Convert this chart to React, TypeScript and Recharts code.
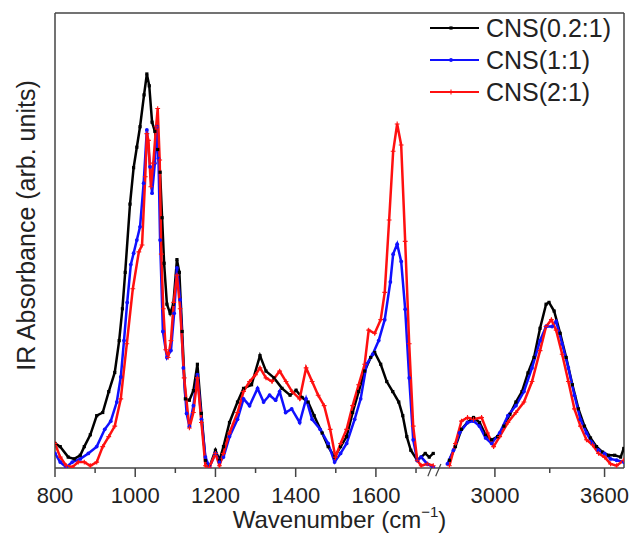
import React from 'react';
import { LineChart, Line, XAxis, YAxis, ReferenceLine, Legend, Label } from 'recharts';

// broken x axis: 800-1750 on the left, 2700-3705 compressed on the right
const BREAK_LOW = 1750;
const BREAK_HIGH = 2700;
const GAP = 10;
const RIGHT_SCALE = 0.4556;
const U_MAX = 2218.5;

const toU = (wn: number) => (wn <= BREAK_LOW ? wn : BREAK_LOW + GAP + (wn - BREAK_HIGH) * RIGHT_SCALE);
const fromU = (u: number) =>
  u <= BREAK_LOW ? Math.round(u) : Math.round(BREAK_HIGH + (u - BREAK_LOW - GAP) / RIGHT_SCALE);

const tickWavenumbers = [800, 900, 1000, 1100, 1200, 1300, 1400, 1500, 1600, 1700, 3000, 3300, 3600];
const labelledTicks = [800, 1000, 1200, 1400, 1600, 3000, 3600];

// [wavenumber, absorbance]
const blackLow: [number, number][] = [
  [800, 5.4], [813, 4.7], [833, 2.4], [848, 2.0], [863, 2.8], [873, 4.7], [888, 7.3], [904, 11.5],
  [919, 12.2], [934, 16.8], [949, 21], [960, 28], [968, 35], [975, 43], [987, 58], [996, 66],
  [1004, 70.5], [1012, 75], [1022, 82], [1029, 86.6], [1035, 84], [1042, 76], [1049, 74], [1056, 70],
  [1062, 65], [1067, 55], [1072, 45], [1079, 36], [1087, 34], [1095, 36], [1104, 45.8], [1110, 43],
  [1117, 30], [1125, 15.2], [1135, 14.9], [1145, 17], [1155, 22.8], [1165, 12], [1175, 1.7], [1185, 0.2],
  [1200, 3.9], [1210, 1.7], [1220, 4.7], [1235, 10], [1255, 14.5], [1270, 17.5], [1290, 18.3], [1311, 24.7],
  [1326, 21.3], [1346, 19.8], [1366, 17.5], [1386, 16], [1401, 17.1], [1416, 15.5], [1431, 14.5], [1446, 11.5],
  [1466, 7.7], [1481, 4.7], [1497, 2.4], [1512, 4.7], [1527, 6.9], [1542, 12.2], [1557, 16.8], [1572, 21.3],
  [1587, 24.3], [1597, 25.4], [1612, 22.8], [1627, 19], [1642, 16.8], [1657, 14.5], [1667, 11.5], [1677, 6.9],
  [1687, 3.9], [1703, 1.7], [1713, 2.4], [1723, 3.2], [1733, 2.4], [1743, 3.2],
];
const blackHigh: [number, number][] = [
  [2751, 1.7], [2784, 4.7], [2817, 8.5], [2850, 10], [2883, 11.1], [2916, 10], [2949, 7.3], [2982, 6.2],
  [3015, 6.9], [3049, 9.2], [3082, 11.8], [3115, 14.5], [3148, 16.8], [3181, 20.9], [3214, 24.3], [3247, 30.7],
  [3280, 36], [3296, 36.4], [3324, 34.5], [3357, 29.6], [3390, 24.3], [3424, 18.3], [3457, 13], [3490, 9.2],
  [3523, 6.6], [3556, 4.7], [3589, 3.5], [3622, 2.8], [3655, 2.8], [3688, 2.4], [3705, 4.3],
];

const blueLow: [number, number][] = [
  [800, 3.2], [813, 1.3], [828, 0.2], [843, 1.3], [863, 2.0], [883, 3.2], [904, 4.7], [924, 8.5],
  [939, 10.3], [954, 14.5], [964, 20], [972, 28], [980, 36.4], [989, 44.7], [996, 47.2], [1004, 50.1],
  [1012, 53], [1021, 62.6], [1029, 74.3], [1037, 66.2], [1042, 60.4], [1049, 67], [1054, 75], [1058, 68],
  [1062, 50.1], [1069, 30], [1079, 24.3], [1089, 25.8], [1097, 34], [1104, 44], [1112, 37], [1120, 22],
  [1128, 12], [1135, 9.2], [1145, 13.7], [1155, 20.5], [1165, 10.7], [1175, 2.4], [1185, 0.2], [1200, 3.2],
  [1210, 1.3], [1220, 2.4], [1235, 6.9], [1255, 10.7], [1270, 15.2], [1285, 13.7], [1305, 17.5], [1320, 14.5],
  [1335, 16], [1350, 14.9], [1360, 16.8], [1375, 12.2], [1390, 13], [1410, 10], [1426, 15.2], [1441, 10.7],
  [1461, 8.5], [1481, 5.4], [1497, 1.3], [1512, 3.2], [1527, 5.4], [1547, 10.7], [1562, 15.2], [1577, 22.8],
  [1592, 25], [1607, 28], [1622, 32.6], [1636, 40.9], [1643, 47], [1653, 49.2], [1663, 45.4], [1673, 34.9],
  [1683, 19.8], [1693, 6.2], [1703, 1.7], [1713, 2.4], [1728, 0.9], [1743, 0.2],
];
const blueHigh: [number, number][] = [
  [2740, 0.9], [2773, 3.9], [2806, 7.7], [2850, 10], [2883, 10.3], [2916, 9.2], [2949, 6.6], [2982, 5.4],
  [3026, 7.7], [3071, 11.5], [3115, 13.7], [3159, 16.8], [3203, 22], [3247, 28], [3280, 31.1], [3313, 31.1],
  [3335, 32.2], [3368, 27.3], [3402, 22], [3435, 16], [3468, 10.7], [3501, 7.7], [3534, 5.4], [3567, 3.9],
  [3600, 3.2], [3633, 2], [3666, 1.7], [3705, 1.3],
];

const redLow: [number, number][] = [
  [800, 5.4], [813, 2.4], [828, 0.5], [843, 0.2], [858, 1.3], [873, 1.3], [888, 0.5], [904, 1.3],
  [919, 4.7], [934, 6.9], [949, 9.2], [964, 15.2], [979, 27.3], [994, 39.4], [1009, 47.5], [1017, 49],
  [1025, 64], [1029, 73.5], [1033, 72], [1039, 61.8], [1045, 67], [1052, 75], [1056, 79], [1061, 67.7],
  [1065, 47], [1070, 35], [1076, 26], [1082, 24.3], [1089, 28], [1096, 36.4], [1104, 42.4], [1112, 35],
  [1122, 19.8], [1135, 8.8], [1145, 12.2], [1155, 19.8], [1165, 10], [1175, 0.5], [1185, 0.2], [1200, 3.2],
  [1210, 0.5], [1220, 3.2], [1235, 7.7], [1255, 12.2], [1270, 16.8], [1285, 19], [1300, 20.5], [1311, 22],
  [1326, 19.8], [1341, 19], [1360, 21.3], [1376, 19], [1391, 16.8], [1410, 15.2], [1426, 22], [1441, 19],
  [1456, 16], [1471, 13.7], [1486, 8.5], [1499, 2.4], [1512, 5.4], [1527, 8.5], [1542, 13.7], [1557, 18.3],
  [1572, 22.8], [1582, 30.3], [1597, 29.6], [1612, 32.6], [1622, 38.6], [1633, 54.5], [1643, 69.6], [1653, 75.6],
  [1663, 71], [1673, 49.8], [1683, 27.3], [1693, 9.2], [1703, 1.7], [1713, 0.5], [1728, 0.9], [1743, 0.5],
];
const redHigh: [number, number][] = [
  [2751, 0.5], [2784, 5.4], [2817, 10.3], [2850, 11.1], [2883, 10.7], [2927, 11.1], [2960, 7.7], [2993, 4.7],
  [3026, 6.9], [3071, 10], [3115, 12.2], [3159, 14.5], [3203, 19], [3247, 25.8], [3280, 31.1], [3309, 32.6],
  [3335, 30.3], [3368, 25], [3402, 19], [3435, 13], [3468, 9.2], [3501, 6.2], [3534, 5.1], [3567, 3.2],
  [3600, 2.4], [3633, 0.9], [3666, 0.5], [3705, 1.7],
];

const seriesNames = ['CNS(0.2:1)', 'CNS(1:1)', 'CNS(2:1)'];
const seriesColors = ['#000000', '#1010ff', '#ff1010'];

const build = (low: [number, number][], high: [number, number][]) => [
  ...low.map(([wn, a]) => ({ u: toU(wn), a })),
  { u: BREAK_LOW + GAP / 2, a: null },
  ...high.map(([wn, a]) => ({ u: toU(wn), a })),
];

const seriesData = [build(blackLow, blackHigh), build(blueLow, blueHigh), build(redLow, redHigh)];

const FONT = '"Liberation Sans", Arial, sans-serif';
const AXIS = '#444';

const SquareDot = (p: any) =>
  p.cy == null ? null : <rect key={p.key} x={p.cx - 1.6} y={p.cy - 1.6} width={3.2} height={3.2} fill={seriesColors[0]} />;
const RoundDot = (p: any) =>
  p.cy == null ? null : <circle key={p.key} cx={p.cx} cy={p.cy} r={1.9} fill={seriesColors[1]} />;
const PlusDot = (p: any) =>
  p.cy == null ? null : (
    <path
      key={p.key}
      d={`M${p.cx - 2.4},${p.cy}H${p.cx + 2.4}M${p.cx},${p.cy - 2.4}V${p.cy + 2.4}`}
      stroke={seriesColors[2]}
      strokeWidth={1.1}
    />
  );
const dotShapes = [SquareDot, RoundDot, PlusDot];

const AxisTick = (props: any) => {
  const { x, y, payload } = props;
  const wn = fromU(payload.value);
  const big = labelledTicks.includes(wn);
  return (
    <g>
      <line x1={x} x2={x} y1={y} y2={y + (big ? 9 : 5)} stroke={AXIS} strokeWidth={1.5} />
      {big && (
        <text x={x} y={y + 35} textAnchor="middle" fontSize={22} fontFamily={FONT} fill="#222">
          {wn}
        </text>
      )}
    </g>
  );
};

const YTitle = (props: any) => {
  const vb = props.viewBox;
  const cx = vb.x + 26;
  const cy = vb.y + vb.height / 2 - 15;
  return (
    <text
      transform={`translate(${cx},${cy}) rotate(-90)`}
      textAnchor="middle"
      dy="0.35em"
      fontSize={25}
      fontFamily={FONT}
      fill="#222"
    >
      IR Absorbance (arb. units)
    </text>
  );
};

const XTitle = (props: any) => {
  const vb = props.viewBox;
  return (
    <text x={vb.x + vb.width / 2} y={vb.y + 60} textAnchor="middle" fontSize={24} fontFamily={FONT} fill="#222">
      Wavenumber (cm
      <tspan fontSize={15} dy={-11}>−1</tspan>
      <tspan dy={11}>)</tspan>
    </text>
  );
};

const LegendBox = () => (
  <svg width={200} height={100}>
    {seriesNames.map((name, i) => {
      const y = 18 + i * 32;
      const Dot = dotShapes[i];
      return (
        <g key={name}>
          <line x1={2} x2={51} y1={y} y2={y} stroke={seriesColors[i]} strokeWidth={2.2} />
          <Dot cx={23} cy={y} />
          <text x={58} y={y} dy="0.35em" fontSize={25} fontFamily={FONT} fill="#222">
            {name}
          </text>
        </g>
      );
    })}
  </svg>
);

export default function App() {
  return (
    <div style={{ position: 'absolute', left: 0, top: 0, background: '#fff' }}>
      <LineChart width={631} height={540} margin={{ top: 13, right: 7, left: 0, bottom: 0 }}>
        <XAxis
          type="number"
          dataKey="u"
          domain={[800, U_MAX]}
          allowDataOverflow
          ticks={tickWavenumbers.map(toU)}
          tick={<AxisTick />}
          tickLine={false}
          tickSize={0}
          tickMargin={0}
          height={72}
          interval={0}
          axisLine={{ stroke: AXIS, strokeWidth: 1.5 }}
        >
          <Label content={<XTitle />} />
        </XAxis>
        <YAxis
          type="number"
          domain={[0, 100]}
          allowDataOverflow
          tick={false}
          tickLine={false}
          width={55}
          axisLine={{ stroke: AXIS, strokeWidth: 1.5 }}
        >
          <Label content={<YTitle />} />
        </YAxis>
        <ReferenceLine y={100} stroke={AXIS} strokeWidth={1.5} />
        <ReferenceLine x={U_MAX} stroke={AXIS} strokeWidth={1.5} />
        <ReferenceLine
          segment={[{ x: 1729.5, y: -1.8 }, { x: 1742, y: 0.9 }]}
          stroke={AXIS}
          strokeWidth={1.2}
          ifOverflow="visible"
        />
        <ReferenceLine
          segment={[{ x: 1749, y: -1.8 }, { x: 1762, y: 0.9 }]}
          stroke={AXIS}
          strokeWidth={1.2}
          ifOverflow="visible"
        />
        {seriesData.map((d, i) => (
          <Line
            key={seriesNames[i]}
            data={d}
            dataKey="a"
            name={seriesNames[i]}
            type="linear"
            stroke={seriesColors[i]}
            strokeWidth={2.5}
            dot={dotShapes[i]}
            activeDot={false}
            isAnimationActive={false}
          />
        ))}
        <Legend
          layout="vertical"
          align="center"
          verticalAlign="middle"
          wrapperStyle={{ top: 10, left: 428, width: 200 }}
          content={<LegendBox />}
        />
      </LineChart>
    </div>
  );
}
